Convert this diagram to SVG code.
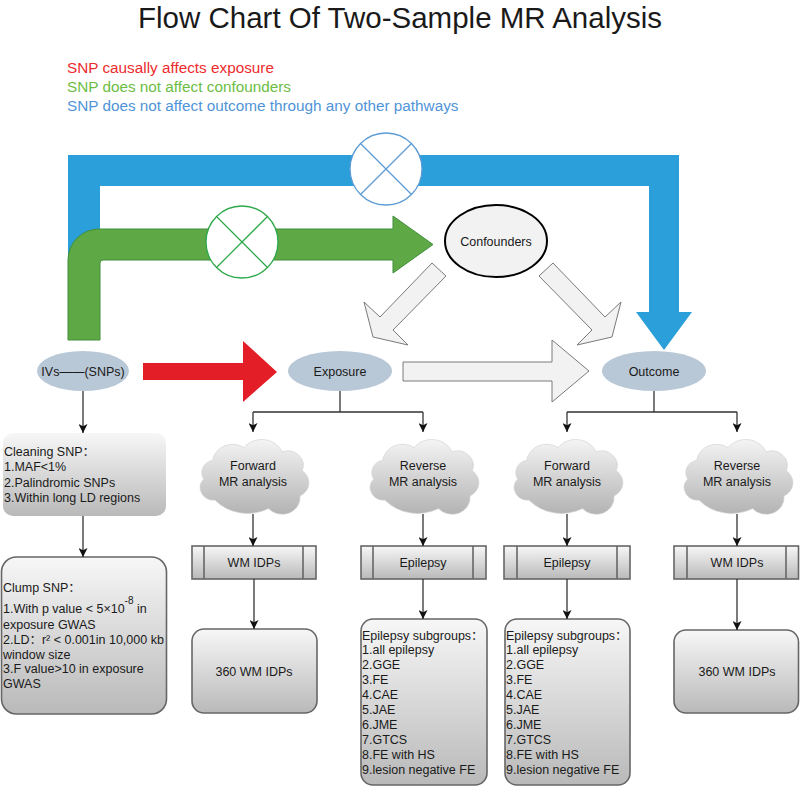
<svg xmlns="http://www.w3.org/2000/svg" width="800" height="786" viewBox="0 0 800 786">
<defs>
<linearGradient id="gBox" x1="0" y1="0" x2="0" y2="1">
<stop offset="0" stop-color="#F7F7F7"/><stop offset="1" stop-color="#B9B9B9"/>
</linearGradient>
<linearGradient id="gCloud" x1="0" y1="0" x2="0" y2="1">
<stop offset="0" stop-color="#F4F4F4"/><stop offset="1" stop-color="#B3B3B3"/>
</linearGradient>
<marker id="ah" viewBox="0 0 10 10" refX="10" refY="5" markerWidth="9" markerHeight="9" markerUnits="userSpaceOnUse" orient="auto">
<path d="M0,0 L10,5 L0,10 L2.5,5 z" fill="#111"/>
</marker>
<path id="cloud" d="M -34 22 A 12 12 0 0 1 -44 2 A 12 12 0 0 1 -36 -16 A 18 18 0 0 1 -8 -28 A 20 20 0 0 1 26 -24 A 14 14 0 0 1 44 -6 A 14 14 0 0 1 42 18 A 16 16 0 0 1 14 30 A 40 40 0 0 1 -34 22 Z"/>
</defs>
<style>
text{font-family:"Liberation Sans",Arial,"Noto Sans CJK SC",sans-serif;fill:#1a1a1a}
.t{font-size:12.5px}
.c{text-anchor:middle}
.leg{font-size:15.3px}
.ell{fill:#B9C8D6}
.box{fill:url(#gBox);stroke:#666;stroke-width:1.6}
.cld{fill:url(#gCloud);stroke:#D0D0D0;stroke-width:0.6}
.conn{fill:none;stroke:#333;stroke-width:1.3}
.garr{fill:#F2F2F2;stroke:#7A7A7A;stroke-width:1}
.inner{stroke:#666;stroke-width:1.6}
</style>
<rect width="800" height="786" fill="#fff"/>

<text x="400" y="28" class="c" style="font-size:29.5px">Flow Chart Of Two-Sample MR Analysis</text>

<g id="legend">
<text x="67" y="73" class="leg" style="fill:#EC2B2E">SNP causally affects exposure</text>
<text x="67" y="92" class="leg" style="fill:#6CBD45">SNP does not affect confounders</text>
<text x="67" y="111" class="leg" style="fill:#4F94D8">SNP does not affect outcome through any other pathways</text>
</g>

<g id="blue-arrow">
<polygon points="68,155 679,155 679,312 692,312 664,350 636,312 649,312 649,186 100,186 100,340 68,340" fill="#2A9FDA"/>
</g>
<g id="green-arrow">
<path d="M68 340 L68 260 A31 31 0 0 1 99 229 L393 229 L393 216 L433 244.5 L393 273 L393 260 L103 260 Q100 260 100 263 L100 340 Z" fill="#5EA846" stroke="#3F8F3A" stroke-width="1"/>
</g>
<g id="blue-x">
<circle cx="386" cy="169" r="36" fill="#fff" stroke="#5B9BD5" stroke-width="1.3"/>
<path d="M360.5 143.5 L411.5 194.5 M411.5 143.5 L360.5 194.5" stroke="#5B9BD5" stroke-width="1.3"/>
</g>
<g id="green-x">
<circle cx="242" cy="242" r="36" fill="#fff" stroke="#2DA84A" stroke-width="1.3"/>
<path d="M216.5 216.5 L267.5 267.5 M267.5 216.5 L216.5 267.5" stroke="#2DA84A" stroke-width="1.3"/>
</g>

<g id="confounders">
<ellipse cx="496" cy="241" rx="51" ry="36" fill="#F2F2F2" stroke="#000" stroke-width="2"/>
<text x="496" y="245.5" class="t c">Confounders</text>
</g>
<g id="conf-arrows">
<polygon class="garr" points="432,263 446,276 393,330 408,345 373,337 364,302 380,317"/>
<polygon class="garr" points="553,263 539,276 592,330 577,345 612,337 621,302 605,317"/>
</g>
<g id="red-arrow">
<polygon points="143,363 243,363 243,341 277,372 243,402 243,380 143,380" fill="#E41E26"/>
</g>
<g id="gray-arrow">
<polygon class="garr" points="403,362 552,362 552,340 589,371 552,402 552,381 403,381"/>
</g>

<g id="ivs">
<ellipse class="ell" cx="83" cy="371" rx="46" ry="20"/>
<text x="83" y="375.5" class="t c">IVs——(SNPs)</text>
</g>
<g id="exposure">
<ellipse class="ell" cx="340" cy="371" rx="52" ry="20"/>
<text x="340" y="375.5" class="t c">Exposure</text>
</g>
<g id="outcome">
<ellipse class="ell" cx="654" cy="371" rx="52" ry="20"/>
<text x="654" y="375.5" class="t c">Outcome</text>
</g>

<g id="cleaning">
<rect x="3" y="433" width="163" height="83" rx="10" fill="url(#gBox)"/>
<text class="t" x="4" y="456">Cleaning SNP：</text>
<text class="t" x="4" y="471">1.MAF&lt;1%</text>
<text class="t" x="4" y="486.5">2.Palindromic SNPs</text>
<text class="t" x="4" y="502">3.Within long LD regions</text>
</g>
<g id="clump">
<rect class="box" x="1.5" y="557" width="165" height="157" rx="15"/>
<text class="t" x="3" y="592">Clump SNP：</text>
<text class="t" x="3" y="613">1.With p value &lt; 5×10<tspan dy="-9" style="font-size:10px">-8</tspan><tspan dy="9"> in</tspan></text>
<text class="t" x="3" y="628.5">exposure GWAS</text>
<text class="t" x="3" y="643.5">2.LD：r² &lt; 0.001in 10,000 kb</text>
<text class="t" x="3" y="658.5">window size</text>
<text class="t" x="3" y="673">3.F value&gt;10 in exposure</text>
<text class="t" x="3" y="688">GWAS</text>
</g>

<g id="cloud-fwd-1">
<use href="#cloud" class="cld" transform="translate(253,477) scale(1.12,1.05)"/>
<text class="t c" x="253" y="470">Forward</text>
<text class="t c" x="253" y="486">MR analysis</text>
</g>
<g id="cloud-rev-1">
<use href="#cloud" class="cld" transform="translate(423,477) scale(1.12,1.05)"/>
<text class="t c" x="423" y="470">Reverse</text>
<text class="t c" x="423" y="486">MR analysis</text>
</g>
<g id="cloud-fwd-2">
<use href="#cloud" class="cld" transform="translate(567,477) scale(1.12,1.05)"/>
<text class="t c" x="567" y="470">Forward</text>
<text class="t c" x="567" y="486">MR analysis</text>
</g>
<g id="cloud-rev-2">
<use href="#cloud" class="cld" transform="translate(737,477) scale(1.12,1.05)"/>
<text class="t c" x="737" y="470">Reverse</text>
<text class="t c" x="737" y="486">MR analysis</text>
</g>

<g id="proc-wm-1">
<rect class="box" x="192" y="546" width="124" height="33"/>
<path class="inner" d="M204 546 V579 M303 546 V579"/>
<text class="t c" x="254" y="567">WM IDPs</text>
</g>
<g id="proc-ep-1">
<rect class="box" x="361" y="546" width="125" height="33"/>
<path class="inner" d="M373 546 V579 M473 546 V579"/>
<text class="t c" x="423" y="567">Epilepsy</text>
</g>
<g id="proc-ep-2">
<rect class="box" x="504" y="546" width="126" height="33"/>
<path class="inner" d="M517 546 V579 M617 546 V579"/>
<text class="t c" x="567" y="567">Epilepsy</text>
</g>
<g id="proc-wm-2">
<rect class="box" x="674" y="546" width="124.5" height="33"/>
<path class="inner" d="M687 546 V579 M786 546 V579"/>
<text class="t c" x="737" y="567">WM IDPs</text>
</g>

<g id="wm-360-1">
<rect class="box" x="192" y="629" width="125" height="84" rx="12"/>
<text class="t c" x="254" y="676">360 WM IDPs</text>
</g>
<g id="wm-360-2">
<rect class="box" x="674" y="630" width="124.5" height="83" rx="12"/>
<text class="t c" x="737" y="676">360 WM IDPs</text>
</g>
<g id="ep-sub-1">
<rect class="box" x="361" y="619" width="126" height="166" rx="12"/>
<text class="t" x="362" y="640">Epilepsy subgroups：</text>
<text class="t" x="362" y="654">1.all epilepsy</text>
<text class="t" x="362" y="669">2.GGE</text>
<text class="t" x="362" y="684">3.FE</text>
<text class="t" x="362" y="699">4.CAE</text>
<text class="t" x="362" y="714">5.JAE</text>
<text class="t" x="362" y="729">6.JME</text>
<text class="t" x="362" y="744">7.GTCS</text>
<text class="t" x="362" y="759">8.FE with HS</text>
<text class="t" x="362" y="774">9.lesion negative FE</text>
</g>
<g id="ep-sub-2">
<rect class="box" x="505" y="619" width="125" height="166" rx="12"/>
<text class="t" x="506" y="640">Epilepsy subgroups：</text>
<text class="t" x="506" y="654">1.all epilepsy</text>
<text class="t" x="506" y="669">2.GGE</text>
<text class="t" x="506" y="684">3.FE</text>
<text class="t" x="506" y="699">4.CAE</text>
<text class="t" x="506" y="714">5.JAE</text>
<text class="t" x="506" y="729">6.JME</text>
<text class="t" x="506" y="744">7.GTCS</text>
<text class="t" x="506" y="759">8.FE with HS</text>
<text class="t" x="506" y="774">9.lesion negative FE</text>
</g>

<g id="connectors">
<path class="conn" d="M83 391 V433" marker-end="url(#ah)"/>
<path class="conn" d="M83 516 V557" marker-end="url(#ah)"/>
<path class="conn" d="M340 391 V412 M253 412 H423"/>
<path class="conn" d="M253 412 V432" marker-end="url(#ah)"/>
<path class="conn" d="M423 412 V432" marker-end="url(#ah)"/>
<path class="conn" d="M654 391 V412 M567 412 H737"/>
<path class="conn" d="M567 412 V432" marker-end="url(#ah)"/>
<path class="conn" d="M737 412 V432" marker-end="url(#ah)"/>
<path class="conn" d="M253 514 V546" marker-end="url(#ah)"/>
<path class="conn" d="M423 514 V546" marker-end="url(#ah)"/>
<path class="conn" d="M567 514 V546" marker-end="url(#ah)"/>
<path class="conn" d="M737 514 V546" marker-end="url(#ah)"/>
<path class="conn" d="M254 579 V629" marker-end="url(#ah)"/>
<path class="conn" d="M423 579 V619" marker-end="url(#ah)"/>
<path class="conn" d="M567 579 V619" marker-end="url(#ah)"/>
<path class="conn" d="M737 579 V630" marker-end="url(#ah)"/>
</g>
</svg>
